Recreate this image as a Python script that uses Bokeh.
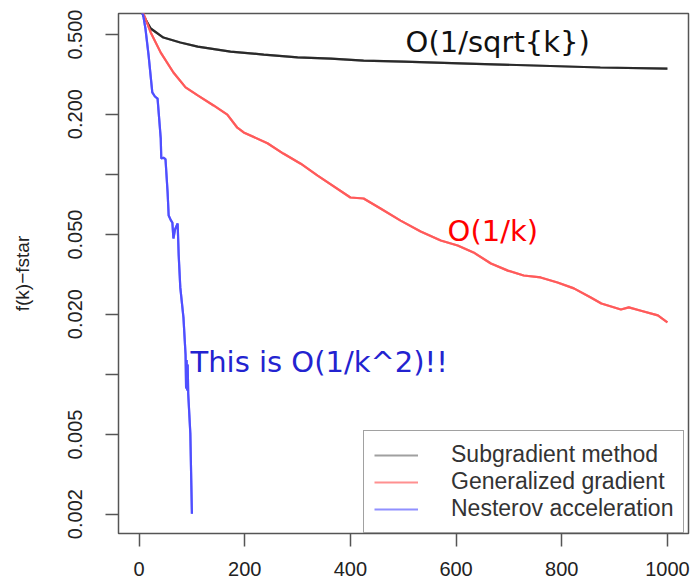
from bokeh.plotting import figure
from bokeh.models import Range1d, FixedTicker, Legend, LegendItem, Label
from bokeh.embed import file_html
from bokeh.resources import INLINE

# ---- data ----
sub_k = [1, 8, 22, 46, 78, 111, 173, 236, 300, 363, 425, 501, 622, 747, 873, 1000]
sub_f = [0.70, 0.622, 0.536, 0.483, 0.456, 0.435, 0.411, 0.397, 0.384, 0.379,
         0.370, 0.366, 0.358, 0.350, 0.342, 0.338]

gen_k = [1, 12, 22, 41, 65, 88, 111, 141, 167, 186, 198, 243, 273, 306, 338, 400,
         425, 457, 495, 533, 571, 603, 633, 666, 698, 728, 760, 792, 823, 855, 875,
         912, 927, 950, 982, 1000]
gen_f = [0.70, 0.601, 0.512, 0.406, 0.323, 0.272, 0.248, 0.221, 0.199, 0.171,
         0.162, 0.143, 0.127, 0.113, 0.0986, 0.0766, 0.0757, 0.0675, 0.0587,
         0.0518, 0.0467, 0.0441, 0.0407, 0.0358, 0.0330, 0.0312, 0.0305, 0.0288,
         0.0269, 0.0242, 0.0226, 0.0211, 0.0216, 0.0208, 0.0197, 0.0182]

nes_k = [1, 8, 12, 18, 25, 30, 35, 41, 42, 46, 50, 54, 56, 60, 63, 65, 68, 73, 75,
         78, 84, 88, 89, 90, 91, 92, 93, 97, 100]
nes_f = [0.70, 0.62, 0.536, 0.393, 0.257, 0.245, 0.239, 0.151, 0.120, 0.121, 0.119,
         0.0811, 0.0622, 0.0590, 0.0574, 0.0478, 0.0530, 0.0568, 0.0393, 0.0272,
         0.0192, 0.0125, 0.0085, 0.0118, 0.0083, 0.0112, 0.0080, 0.00506, 0.00201]

x_ticks = [0, 200, 400, 600, 800, 1000]
y_ticks = [0.002, 0.005, 0.01, 0.02, 0.05, 0.1, 0.2, 0.5]
y_tick_labels = ["0.002", "0.005", "", "0.020", "0.050", "", "0.200", "0.500"]
legend_labels = ["Subgradient method", "Generalized gradient", "Nesterov acceleration"]

p = figure(width=695, height=582, output_backend="svg", toolbar_location=None,
           y_axis_type="log",
           x_range=Range1d(-38.96, 1039.96), y_range=Range1d(0.0016, 0.637),
           min_border_left=118, min_border_right=7, min_border_top=13,
           min_border_bottom=49)
p.background_fill_color = "white"
p.border_fill_color = "white"
p.grid.visible = False
p.outline_line_color = "#555555"
p.outline_line_width = 1.5

tick_font = "Liberation Sans"
for ax in (p.xaxis[0], p.yaxis[0]):
    ax.axis_line_color = None
    ax.major_tick_line_color = "#555555"
    ax.major_tick_line_width = 1.5
    ax.major_tick_out = 13
    ax.major_tick_in = 0
    ax.minor_tick_line_color = None
    ax.major_label_text_font = tick_font
    ax.major_label_text_font_size = "20px"
    ax.major_label_text_color = "#222222"

p.xaxis[0].ticker = FixedTicker(ticks=x_ticks)
p.xaxis[0].major_label_standoff = 15

p.yaxis[0].ticker = FixedTicker(ticks=y_ticks)
p.yaxis[0].major_label_overrides = {t: l for t, l in zip(y_ticks, y_tick_labels)}
p.yaxis[0].major_label_orientation = "vertical"
p.yaxis[0].major_label_standoff = 23
p.yaxis[0].axis_label = "f(k)\u2212fstar"
p.yaxis[0].axis_label_text_font = tick_font
p.yaxis[0].axis_label_text_font_style = "normal"
p.yaxis[0].axis_label_text_font_size = "19px"
p.yaxis[0].axis_label_text_color = "#222222"
p.yaxis[0].axis_label_standoff = 33

# legend sample renderers (lighter colours), drawn beneath the opaque curves
leg_colors = ["#a0a0a0", "#ff9090", "#9090ff"]
series = [(sub_k, sub_f), (gen_k, gen_f), (nes_k, nes_f)]
items = []
for lab, col, (kk, ff) in zip(legend_labels, leg_colors, series):
    r = p.line(kk, ff, line_color=col, line_width=2.2)
    items.append(LegendItem(label=lab, renderers=[r]))

p.line(sub_k, sub_f, line_color="#2a2a2a", line_width=2.2)
p.line(gen_k, gen_f, line_color="#ff5a5a", line_width=2.2)
p.line(nes_k, nes_f, line_color="#4f4fff", line_width=2.2)

legend = Legend(items=items, location=(245, 0), padding=10, spacing=0, margin=0,
                label_height=26, glyph_height=26, glyph_width=44, label_standoff=33,
                label_text_font=tick_font, label_text_font_size="23px",
                label_text_color="#333333", border_line_color="#444444",
                border_line_width=1.5, background_fill_color="white",
                background_fill_alpha=1.0)
p.add_layout(legend)

ann_font = "DejaVu Sans"
p.add_layout(Label(x=504.5, y=0.461, text="O(1/sqrt{k})", text_font=ann_font,
                   text_font_size="29px", text_color="#111111",
                   text_baseline="alphabetic", text_align="left"))
p.add_layout(Label(x=584, y=0.0518, text="O(1/k)", text_font=ann_font,
                   text_font_size="29px", text_color="#ff0000",
                   text_baseline="alphabetic", text_align="left"))
p.add_layout(Label(x=97.3, y=0.01159, text="This is O(1/k^2)!!", text_font=ann_font,
                   text_font_size="29px", text_color="#2323d0",
                   text_baseline="alphabetic", text_align="left"))

open("out.html", "w").write(file_html(p, INLINE))
